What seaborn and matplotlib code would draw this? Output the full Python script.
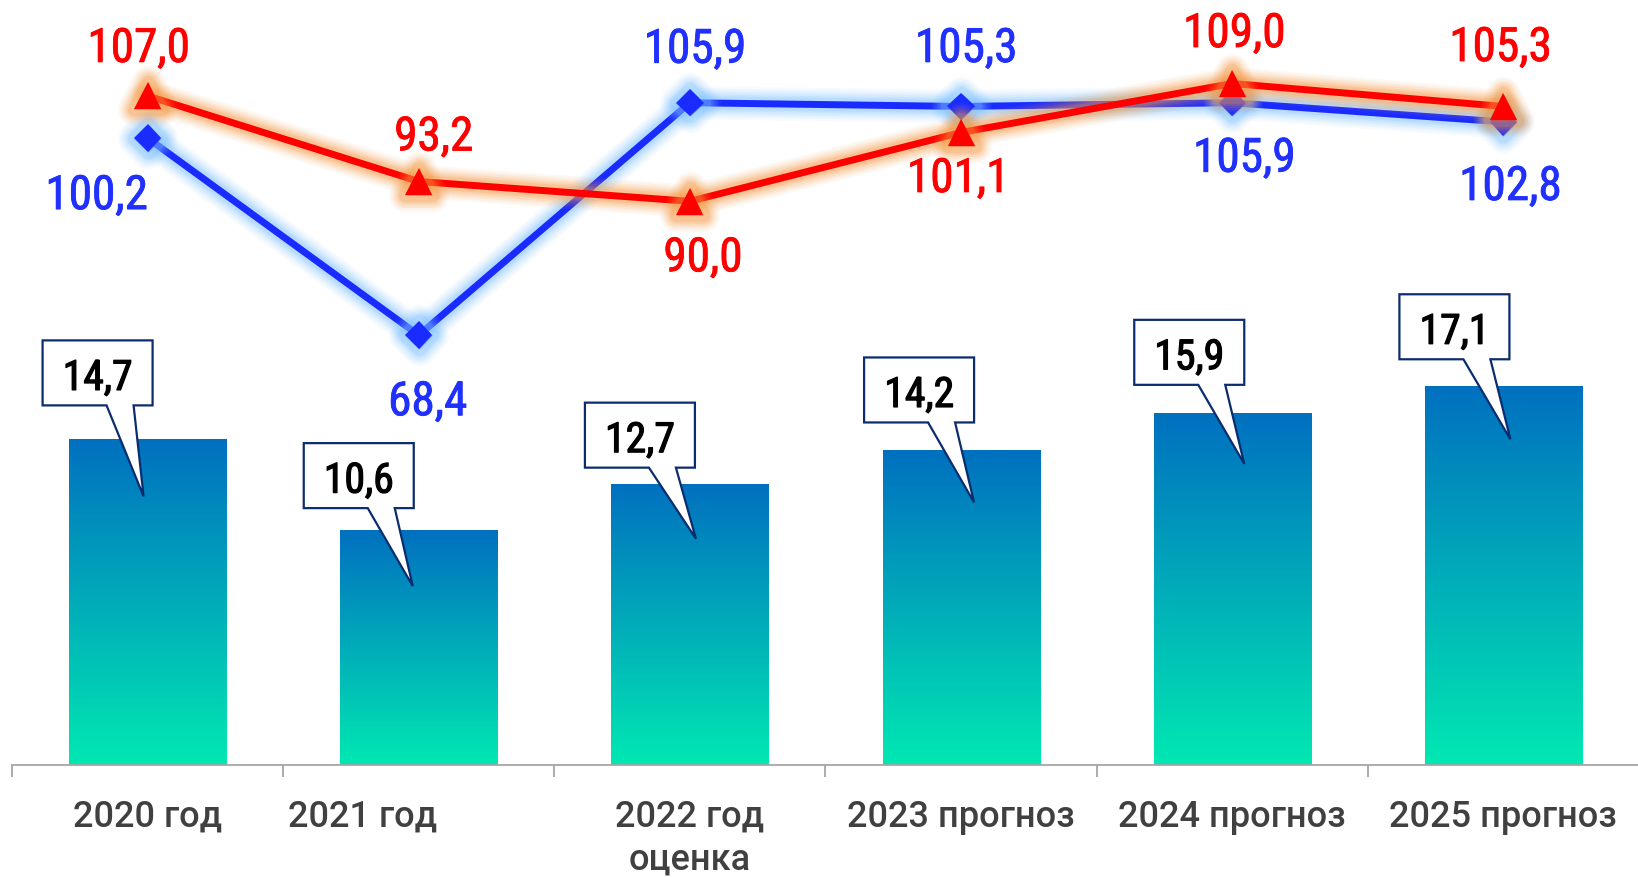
import numpy as np
import pandas as pd
import matplotlib
matplotlib.use("Agg")
import matplotlib.pyplot as plt
import seaborn as sns
from matplotlib.patches import Polygon
from matplotlib.transforms import IdentityTransform, ScaledTranslation
import matplotlib.patheffects as pe

# ---------------- data ----------------
categories = ["2020 год", "2021 год", "2022 год\nоценка", "2023 прогноз", "2024 прогноз", "2025 прогноз"]
bar_values = [14.7, 10.6, 12.7, 14.2, 15.9, 17.1]
red_values = [107.0, 93.2, 90.0, 101.1, 109.0, 105.3]
blue_values = [100.2, 68.4, 105.9, 105.3, 105.9, 102.8]

def fmt(v):
    return f"{v:.1f}".replace(".", ",")

sns.set_theme(style="white")
COND = ['Roboto Condensed', 'Roboto', 'DejaVu Sans']
plt.rcParams['font.family'] = COND

W, H = 1638, 878
BASE = 765.7
fig = plt.figure(figsize=(W / 100, H / 100), dpi=100)
fig.patch.set_facecolor("white")
ax = fig.add_axes([12 / W, (H - BASE) / H, 1627 / W, BASE / H])

df = pd.DataFrame({"cat": categories, "val": bar_values})
sns.barplot(data=df, x="cat", y="val", ax=ax, width=0.579, color="#0070C0",
            saturation=1, errorbar=None)

# gradient fill for bars
top_c = np.array([0, 112, 192]) / 255
bot_c = np.array([0, 232, 178]) / 255
t = np.linspace(0, 1, 256)[:, None, None]
img = top_c[None, None, :] * (1 - t) + bot_c[None, None, :] * t
for patch in list(ax.patches):
    x0, y0 = patch.get_x(), patch.get_y()
    x1, y1 = x0 + patch.get_width(), y0 + patch.get_height()
    im = ax.imshow(img, extent=[x0, x1, y0, y1], aspect="auto", origin="upper",
                   interpolation="bilinear", zorder=patch.get_zorder() + 0.1)
    im.set_clip_path(patch)
    patch.set_facecolor("none")
    patch.set_edgecolor("none")

ax.set_xlim(-0.5, 5.5)
ax.set_ylim(0, BASE / 22.13)
for s in ["top", "left", "right"]:
    ax.spines[s].set_visible(False)
ax.spines["bottom"].set_color("#A6A6A6")
ax.spines["bottom"].set_linewidth(1.3)
ax.set_yticks([])
ax.set_xlabel("")
ax.set_ylabel("")
ax.set_xticks(np.arange(-0.5, 6.0, 1.0))
ax.set_xticklabels([""] * 7)
ax.set_xticks(np.arange(6), minor=True)
ax.set_xticklabels(categories, minor=True)
ax.tick_params(axis="x", which="major", length=8.6, width=1.3, color="#A6A6A6", direction="out", bottom=True)
ax.tick_params(axis="x", which="minor", length=0, pad=24.5, bottom=True)
for i, lab in enumerate(ax.get_xticklabels(minor=True)):
    lab.set_fontfamily(['Roboto', 'DejaVu Sans'])
    lab.set_fontsize(26)
    lab.set_fontweight("medium")
    lab.set_color("#404040")
    lab.set_linespacing(1.3)
    if i == 1:
        lab.set_transform(lab.get_transform() + ScaledTranslation(-56 / 100, 0, fig.dpi_scale_trans))

# ---------------- lines ----------------
ax2 = ax.twinx()
xpos = np.arange(len(categories))
RED, BLUE = "#FF0000", "#1A2BFF"
sns.lineplot(x=xpos, y=blue_values, ax=ax2, color=BLUE, linewidth=5, marker="D",
             markersize=14, markeredgecolor=BLUE, markeredgewidth=0, sort=False)
ln_b = ax2.lines[-1]
sns.lineplot(x=xpos, y=red_values, ax=ax2, color=RED, linewidth=5, marker="^",
             markersize=19.5, markeredgecolor=RED, markeredgewidth=0, sort=False)
ln_r = ax2.lines[-1]

def glow(col):
    effects = []
    for w, a in [(24, 0.06), (21, 0.08), (18, 0.1), (15, 0.13), (12, 0.16), (9.5, 0.2)]:
        effects.append(pe.Stroke(linewidth=w, foreground=col, alpha=a,
                                 joinstyle="round", capstyle="round"))
    effects.append(pe.Normal())
    return effects

ln_b.set_path_effects(glow("#7EC3FF"))
ln_r.set_path_effects(glow("#F7963C"))

ax2.set_xlim(-0.5, 5.5)
ax2.set_ylim(-0.87, 122.63)
ax2.set_yticks([])
ax2.set_ylabel("")
for s in ax2.spines.values():
    s.set_visible(False)

red_off = [(-9, -34), (15, -31), (13, 70), (-3, 59.5), (2, -36.5), (-3, -45.5)]
blue_off = [(-51, 71), (9, 80), (5, -40), (5, -44.5), (12, 69), (7, 78)]
for vals, offs, col in [(red_values, red_off, RED), (blue_values, blue_off, "#1F30FF")]:
    for i, v in enumerate(vals):
        dx, dy = offs[i]
        txt = ax2.annotate(fmt(v), xy=(i, v), xytext=(dx, -dy), textcoords="offset pixels",
                           ha="center", va="baseline", color=col, fontsize=34,
                           fontweight="normal", family=COND, zorder=10)
        txt.set_path_effects([pe.Stroke(linewidth=0.6, foreground=col), pe.Normal()])

# ---------------- callouts ----------------
box_left = [-105, -115, -105, -97, -98, -104]
box_gap = [34, 22, 16, 28, 28, 27]
tip_dx = [-4, -6, 6, 13, 12, 7]
tip_drop = [57, 56, 55, 52, 51, 53]
BOX_W, BOX_H = 110, 65
TAIL_A, TAIL_B = 64, 91
for i, v in enumerate(bar_values):
    cx, ty = ax.transData.transform((i, v))
    left = cx + box_left[i]
    right = left + BOX_W
    bottom = ty + box_gap[i]
    top = bottom + BOX_H
    tip = (cx + tip_dx[i], ty - tip_drop[i])
    verts = [(left, bottom), (left + TAIL_A, bottom), tip, (left + TAIL_B, bottom),
             (right, bottom), (right, top), (left, top)]
    poly = Polygon(verts, closed=True, facecolor="white", edgecolor="#0B2C6E",
                   linewidth=1.6, transform=IdentityTransform(), zorder=5, joinstyle="miter")
    ax.add_patch(poly)
    ct = ax.text((left + right) / 2, (bottom + top) / 2 - 17, fmt(v), transform=IdentityTransform(),
                 ha="center", va="baseline", color="black", fontsize=30, fontweight="normal",
                 family=COND, zorder=6)
    ct.set_path_effects([pe.Stroke(linewidth=0.9, foreground="black"), pe.Normal()])

fig.savefig("out.png", dpi=100, facecolor="white")
